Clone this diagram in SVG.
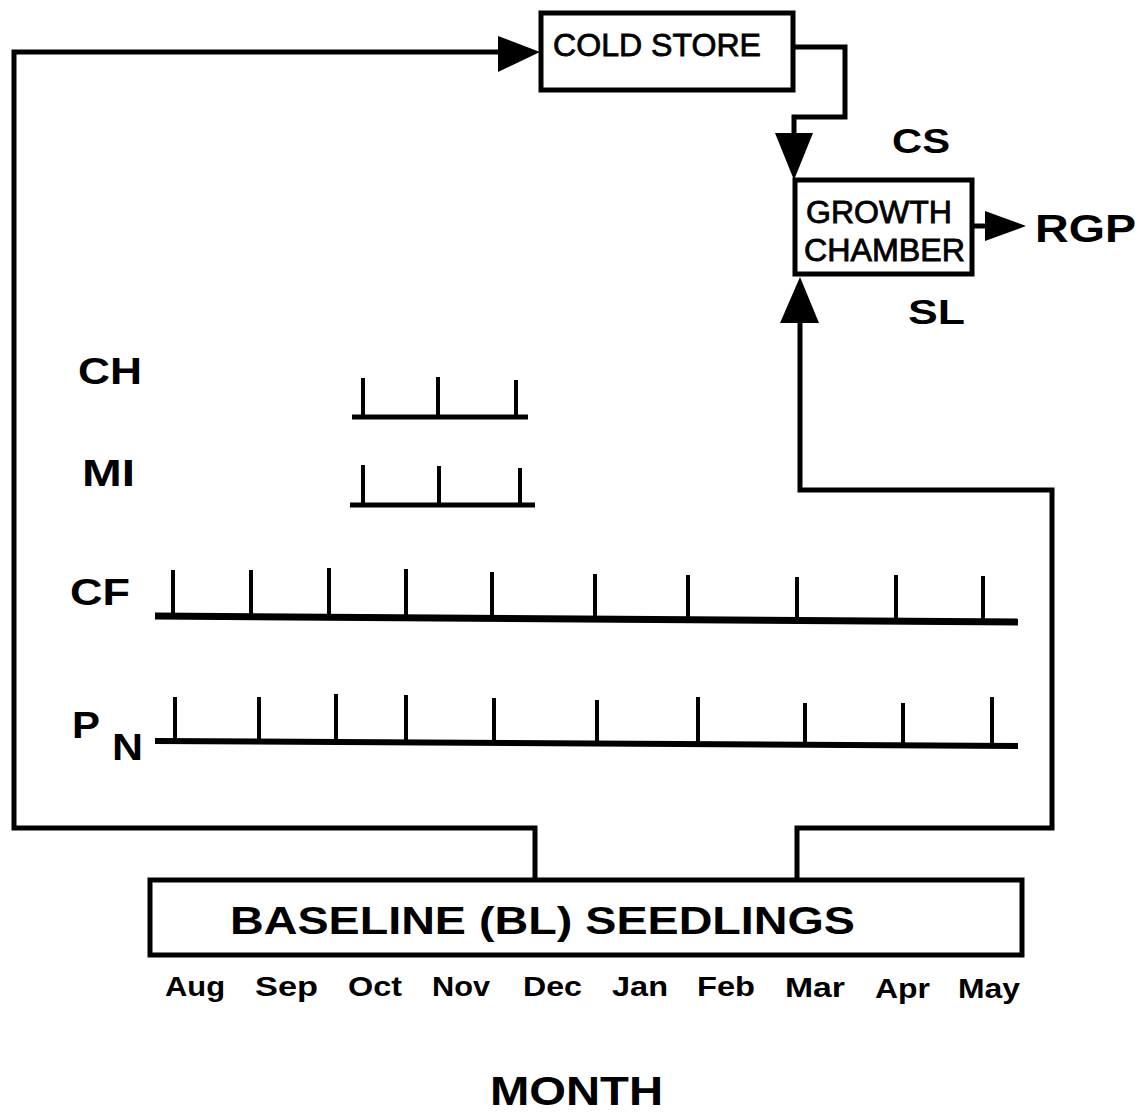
<svg xmlns="http://www.w3.org/2000/svg" width="1142" height="1112" viewBox="0 0 1142 1112">
<style>
.box{fill:#fff;stroke:#000;stroke-width:5}
.ln{fill:none;stroke:#000;stroke-width:5;stroke-linejoin:miter}
.tk{stroke:#000;stroke-width:4}
.bl{stroke:#000;stroke-width:5}
.lbl{font-family:"Liberation Sans",Arial,sans-serif;font-weight:bold;fill:#000}
.bx{font-family:"Liberation Sans",Arial,sans-serif;fill:#000;stroke:#000;stroke-width:0.8}
</style>
<rect width="1142" height="1112" fill="#fff"/>
<g id="connectors">
<polyline class="ln" points="535,880 535,828 14,828 14,52 505,52"/>
<polygon points="540,52 498,36 498,72"/>
<polyline class="ln" points="793,47 845,47 845,117 794,117 794,140"/>
<polygon points="794,180 775,133 813,133"/>
<polyline class="ln" points="797,880 797,828 1052,828 1052,490 800,490 800,318"/>
<polygon points="800,277 780,323 819,323"/>
<line class="ln" x1="973" y1="226" x2="990" y2="226"/>
<polygon points="1026,226 985,211 985,241"/>
</g>
<g id="cold-store">
<rect class="box" x="541" y="13" width="252" height="77"/>
<text class="bx" x="553" y="56" font-size="32" textLength="208" lengthAdjust="spacingAndGlyphs">COLD STORE</text>
</g>
<g id="growth-chamber">
<rect class="box" x="795" y="180" width="177" height="94"/>
<text class="bx" x="806" y="223" font-size="31" textLength="146" lengthAdjust="spacingAndGlyphs">GROWTH</text>
<text class="bx" x="804" y="261" font-size="31" textLength="161" lengthAdjust="spacingAndGlyphs">CHAMBER</text>
</g>
<g id="baseline">
<rect class="box" x="150" y="880" width="872" height="75"/>
<text class="lbl" x="230" y="934" font-size="39" textLength="625" lengthAdjust="spacingAndGlyphs">BASELINE (BL) SEEDLINGS</text>
</g>
<g id="labels">
<text class="lbl" x="892" y="153" font-size="35" textLength="58" lengthAdjust="spacingAndGlyphs">CS</text>
<text class="lbl" x="908" y="324" font-size="35" textLength="57" lengthAdjust="spacingAndGlyphs">SL</text>
<text class="lbl" x="1035" y="242" font-size="39" textLength="101" lengthAdjust="spacingAndGlyphs">RGP</text>
<text class="lbl" x="78" y="384" font-size="36" textLength="64" lengthAdjust="spacingAndGlyphs">CH</text>
<text class="lbl" x="82" y="486" font-size="36" textLength="53" lengthAdjust="spacingAndGlyphs">MI</text>
<text class="lbl" x="70" y="605" font-size="36" textLength="60" lengthAdjust="spacingAndGlyphs">CF</text>
<text class="lbl" x="72" y="738" font-size="36" textLength="28" lengthAdjust="spacingAndGlyphs">P</text>
<text class="lbl" x="112" y="760" font-size="36" textLength="31" lengthAdjust="spacingAndGlyphs">N</text>
<text class="lbl" x="490" y="1105" font-size="41" textLength="173" lengthAdjust="spacingAndGlyphs">MONTH</text>
</g>
<g id="months" class="lbl" font-size="28">
<text x="165" y="996" textLength="60" lengthAdjust="spacingAndGlyphs">Aug</text>
<text x="255" y="996" textLength="63" lengthAdjust="spacingAndGlyphs">Sep</text>
<text x="348" y="996" textLength="54" lengthAdjust="spacingAndGlyphs">Oct</text>
<text x="432" y="996" textLength="58" lengthAdjust="spacingAndGlyphs">Nov</text>
<text x="523" y="996" textLength="59" lengthAdjust="spacingAndGlyphs">Dec</text>
<text x="612" y="996" textLength="56" lengthAdjust="spacingAndGlyphs">Jan</text>
<text x="697" y="996" textLength="58" lengthAdjust="spacingAndGlyphs">Feb</text>
<text x="785" y="997" textLength="60" lengthAdjust="spacingAndGlyphs">Mar</text>
<text x="875" y="998" textLength="55" lengthAdjust="spacingAndGlyphs">Apr</text>
<text x="958" y="998" textLength="62" lengthAdjust="spacingAndGlyphs">May</text>
</g>
<g id="ch-line">
<line class="bl" x1="352" y1="417" x2="528" y2="417"/>
<line class="tk" x1="363" y1="378" x2="363" y2="417"/>
<line class="tk" x1="438" y1="377" x2="438" y2="417"/>
<line class="tk" x1="516" y1="380" x2="516" y2="417"/>
</g>
<g id="mi-line">
<line class="bl" x1="350" y1="505" x2="535" y2="505"/>
<line class="tk" x1="363" y1="465" x2="363" y2="505"/>
<line class="tk" x1="439" y1="466" x2="439" y2="505"/>
<line class="tk" x1="520" y1="468" x2="520" y2="505"/>
</g>
<g id="cf-line">
<line stroke="#000" stroke-width="7" x1="155" y1="616" x2="1018" y2="622"/>
<line class="tk" x1="173" y1="570" x2="173" y2="616"/>
<line class="tk" x1="251" y1="570" x2="251" y2="616"/>
<line class="tk" x1="329" y1="568" x2="329" y2="616"/>
<line class="tk" x1="406" y1="569" x2="406" y2="617"/>
<line class="tk" x1="492" y1="572" x2="492" y2="617"/>
<line class="tk" x1="595" y1="574" x2="595" y2="618"/>
<line class="tk" x1="688" y1="575" x2="688" y2="619"/>
<line class="tk" x1="797" y1="577" x2="797" y2="620"/>
<line class="tk" x1="896" y1="575" x2="896" y2="620"/>
<line class="tk" x1="983" y1="576" x2="983" y2="621"/>
</g>
<g id="pn-line">
<line stroke="#000" stroke-width="6" x1="155" y1="741" x2="1018" y2="746"/>
<line class="tk" x1="175" y1="697" x2="175" y2="741"/>
<line class="tk" x1="259" y1="697" x2="259" y2="741"/>
<line class="tk" x1="336" y1="694" x2="336" y2="742"/>
<line class="tk" x1="406" y1="695" x2="406" y2="742"/>
<line class="tk" x1="494" y1="698" x2="494" y2="742"/>
<line class="tk" x1="597" y1="700" x2="597" y2="743"/>
<line class="tk" x1="698" y1="697" x2="698" y2="744"/>
<line class="tk" x1="805" y1="703" x2="805" y2="745"/>
<line class="tk" x1="903" y1="703" x2="903" y2="745"/>
<line class="tk" x1="992" y1="697" x2="992" y2="746"/>
</g>
</svg>
